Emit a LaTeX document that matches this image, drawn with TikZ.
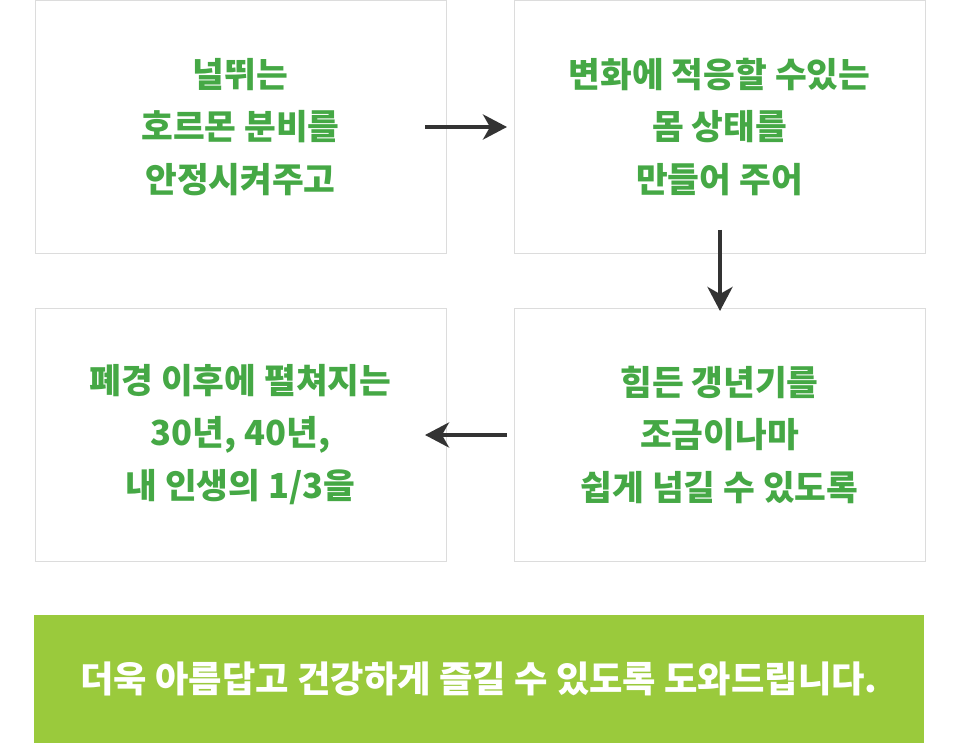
\documentclass[tikz,border=0pt]{standalone}
\usepackage{fontspec}
\newfontfamily\kr{Noto Sans CJK KR}
\usetikzlibrary{arrows.meta}
\definecolor{txtgreen}{HTML}{45A845}
\definecolor{bargreen}{HTML}{9ACA3C}
\definecolor{boxline}{HTML}{DCDCDC}
\definecolor{arrowc}{HTML}{333333}
\tikzset{
  stepbox/.style={draw=boxline, line width=1pt, fill=white, minimum width=411pt, minimum height=253pt, inner sep=0pt,
    align=center, text=txtgreen, font=\kr\bfseries\fontsize{34.5pt}{52.5pt}\selectfont},
  flow/.style={draw=arrowc, line width=4pt, -{Stealth[length=24pt,width=25pt,inset=7pt]}},
}
\begin{document}
\begin{tikzpicture}[x=1pt,y=-1pt]
\useasboundingbox (0,0) rectangle (960,743);
\node[stepbox] (a) at (240.5,127) {널뛰는\\호르몬 분비를\\안정시켜주고};
\node[stepbox] (b) at (719.5,127) {변화에 적응할 수있는\\몸 상태를\\만들어 주어};
\node[stepbox] (c) at (719.5,434.5) {힘든 갱년기를\\조금이나마\\쉽게 넘길 수 있도록};
\node[stepbox] (d) at (240.5,434.5) {폐경 이후에 펼쳐지는\\30년, 40년,\\내 인생의 1/3을};
\node[fill=bargreen, minimum width=890pt, minimum height=128pt, inner sep=0pt, text=white,
  font=\kr\bfseries\fontsize{36.3pt}{40pt}\selectfont] (e) at (479,679) {더욱 아름답고 건강하게 즐길 수 있도록 도와드립니다.};
\coordinate (a1) at (425,127);
\coordinate (b1) at (507,127);
\draw[flow] (a1) -- (b1);
\coordinate (c1) at (720,230);
\coordinate (c2) at (720,311);
\draw[flow] (c1) -- (c2);
\coordinate (d1) at (507,435);
\coordinate (d2) at (425,435);
\draw[flow] (d1) -- (d2);
\end{tikzpicture}
\end{document}
